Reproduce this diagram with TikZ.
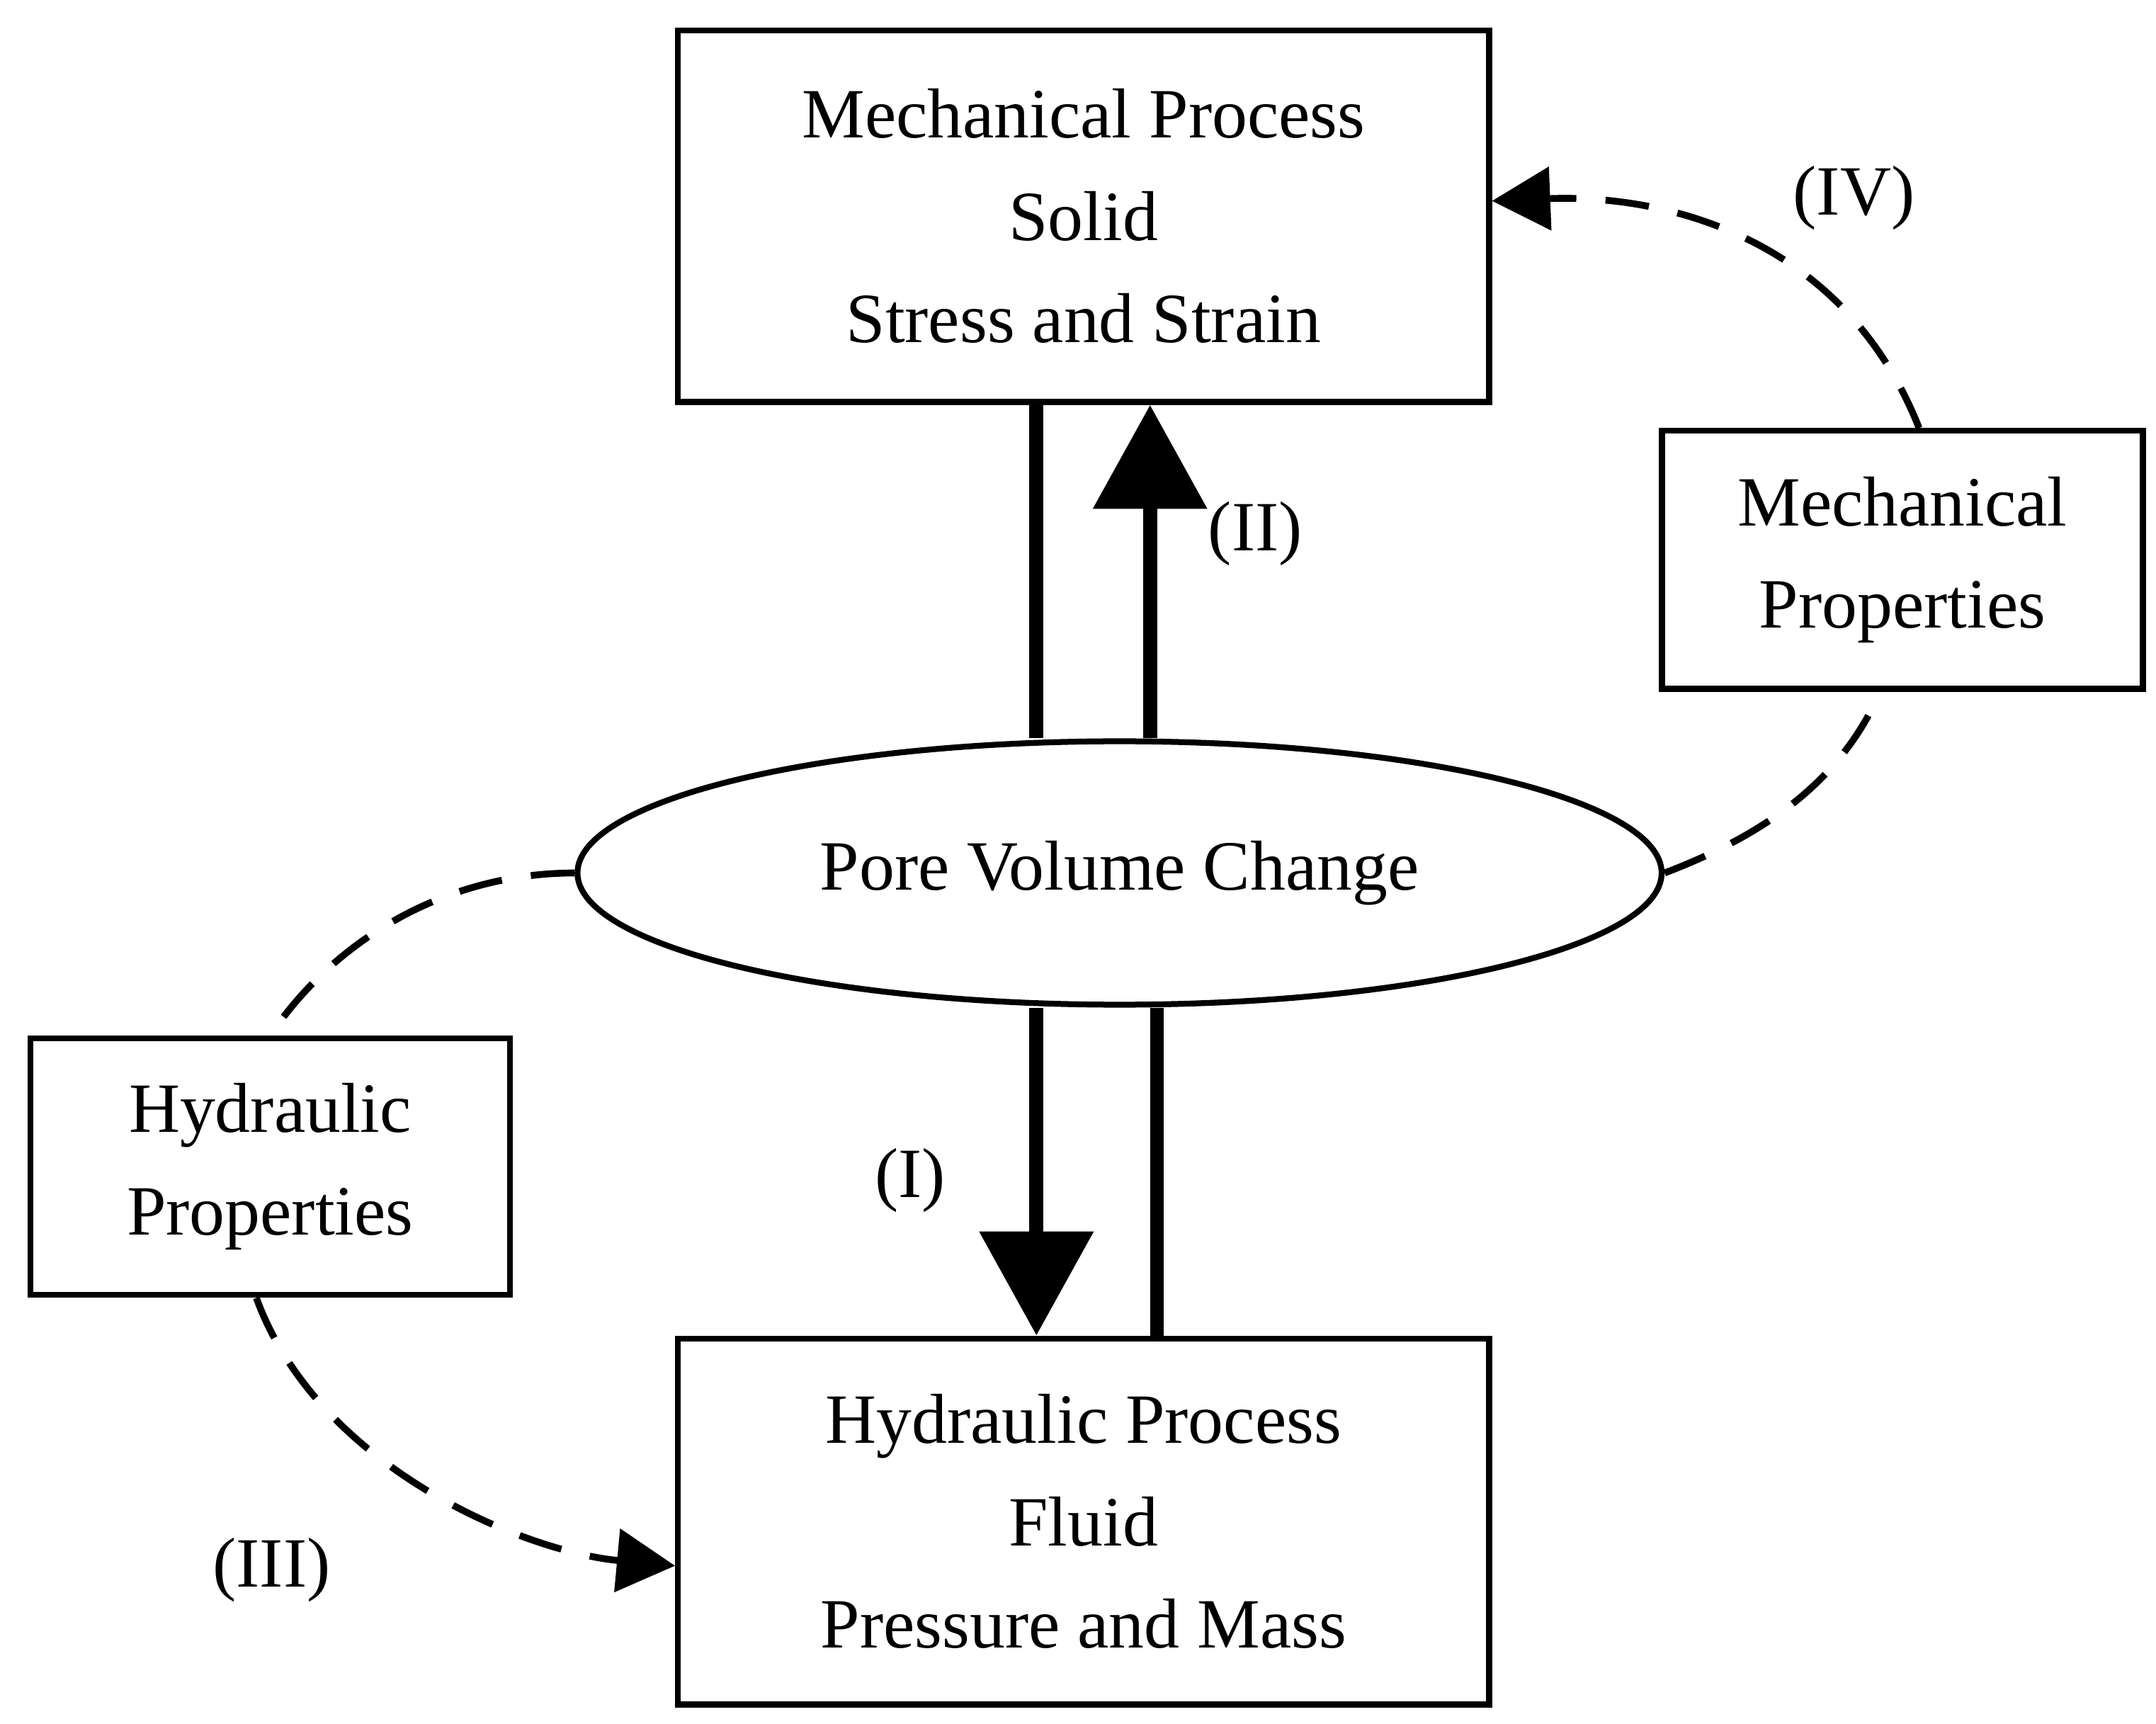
\documentclass[tikz,border=0pt]{standalone}
\usepackage{fontspec}
\setmainfont{Liberation Serif}
\usetikzlibrary{arrows.meta,shapes.geometric,positioning}
\tikzset{
    box/.style={
           rectangle,
           draw=black, line width=1.2pt,
           align=center,
           font=\fontsize{14.5}{21}\selectfont,
           },
    strong/.style={line width=2.9pt},
    link/.style={dashed, line width=1.4pt, dash pattern=on 9pt off 6pt},
    lbl/.style={font=\fontsize{14.5}{17}\selectfont},
}
\begin{document}
\begin{tikzpicture}[x=0.01cm,y=-0.01cm]
 \useasboundingbox (0,0) rectangle (1556,1244);
 % process boxes
 \node[box, minimum width=5.85cm, minimum height=2.68cm] (MP) at (782,156)
   {Mechanical Process\\Solid\\Stress and Strain};
 \node[box, minimum width=5.85cm, minimum height=2.64cm] (HP) at (782,1098)
   {Hydraulic Process\\Fluid\\Pressure and Mass};
 \node[box, ellipse, minimum width=7.82cm, minimum height=1.9cm, inner sep=0pt] (PV) at (808,630)
   {Pore Volume Change};
 % property boxes
 \node[box, minimum width=3.47cm, minimum height=1.86cm] (MPr) at (1373,404)
   {Mechanical\\Properties};
 \node[box, minimum width=3.46cm, minimum height=1.85cm] (HPr) at (195,842)
   {Hydraulic\\Properties};
 % coupling
 \draw[strong] (PV.north -| 748,0) -- (MP.south -| 748,0);
 \draw[strong, -{Triangle[width=0.8cm,length=0.75cm]}] (PV.north -| 830,0) -- (MP.south -| 830,0);
 \draw[strong, -{Triangle[width=0.8cm,length=0.75cm]}] (PV.south -| 748,0) -- (HP.north -| 748,0);
 \draw[strong] (PV.south -| 835,0) -- (HP.north -| 835,0);
 \node[lbl] (l2) at (906,385) {(II)};
 \node[lbl] (l1) at (657,852) {(I)};
 % properties
 \draw[link] (PV.west) .. controls (320,630) and (240,680) .. (HPr.north);
 \draw[link, -{Triangle[width=0.45cm,length=0.42cm]}] (HPr.south -| 185,0)
   .. controls (230,1060) and (380,1120) .. (HP.west |- 0,1130);
 \draw[link] (PV.east) .. controls (1280,600) and (1330,560) .. (MPr.south -| 1357,0);
 \draw[link, -{Triangle[width=0.45cm,length=0.42cm]}] (MPr.north -| 1385,0)
   .. controls (1330,170) and (1200,140) .. (MP.east |- 0,145);
 \node[lbl] (l3) at (196,1133) {(III)};
 \node[lbl] (l4) at (1338,143) {(IV)};
\end{tikzpicture}
\end{document}
